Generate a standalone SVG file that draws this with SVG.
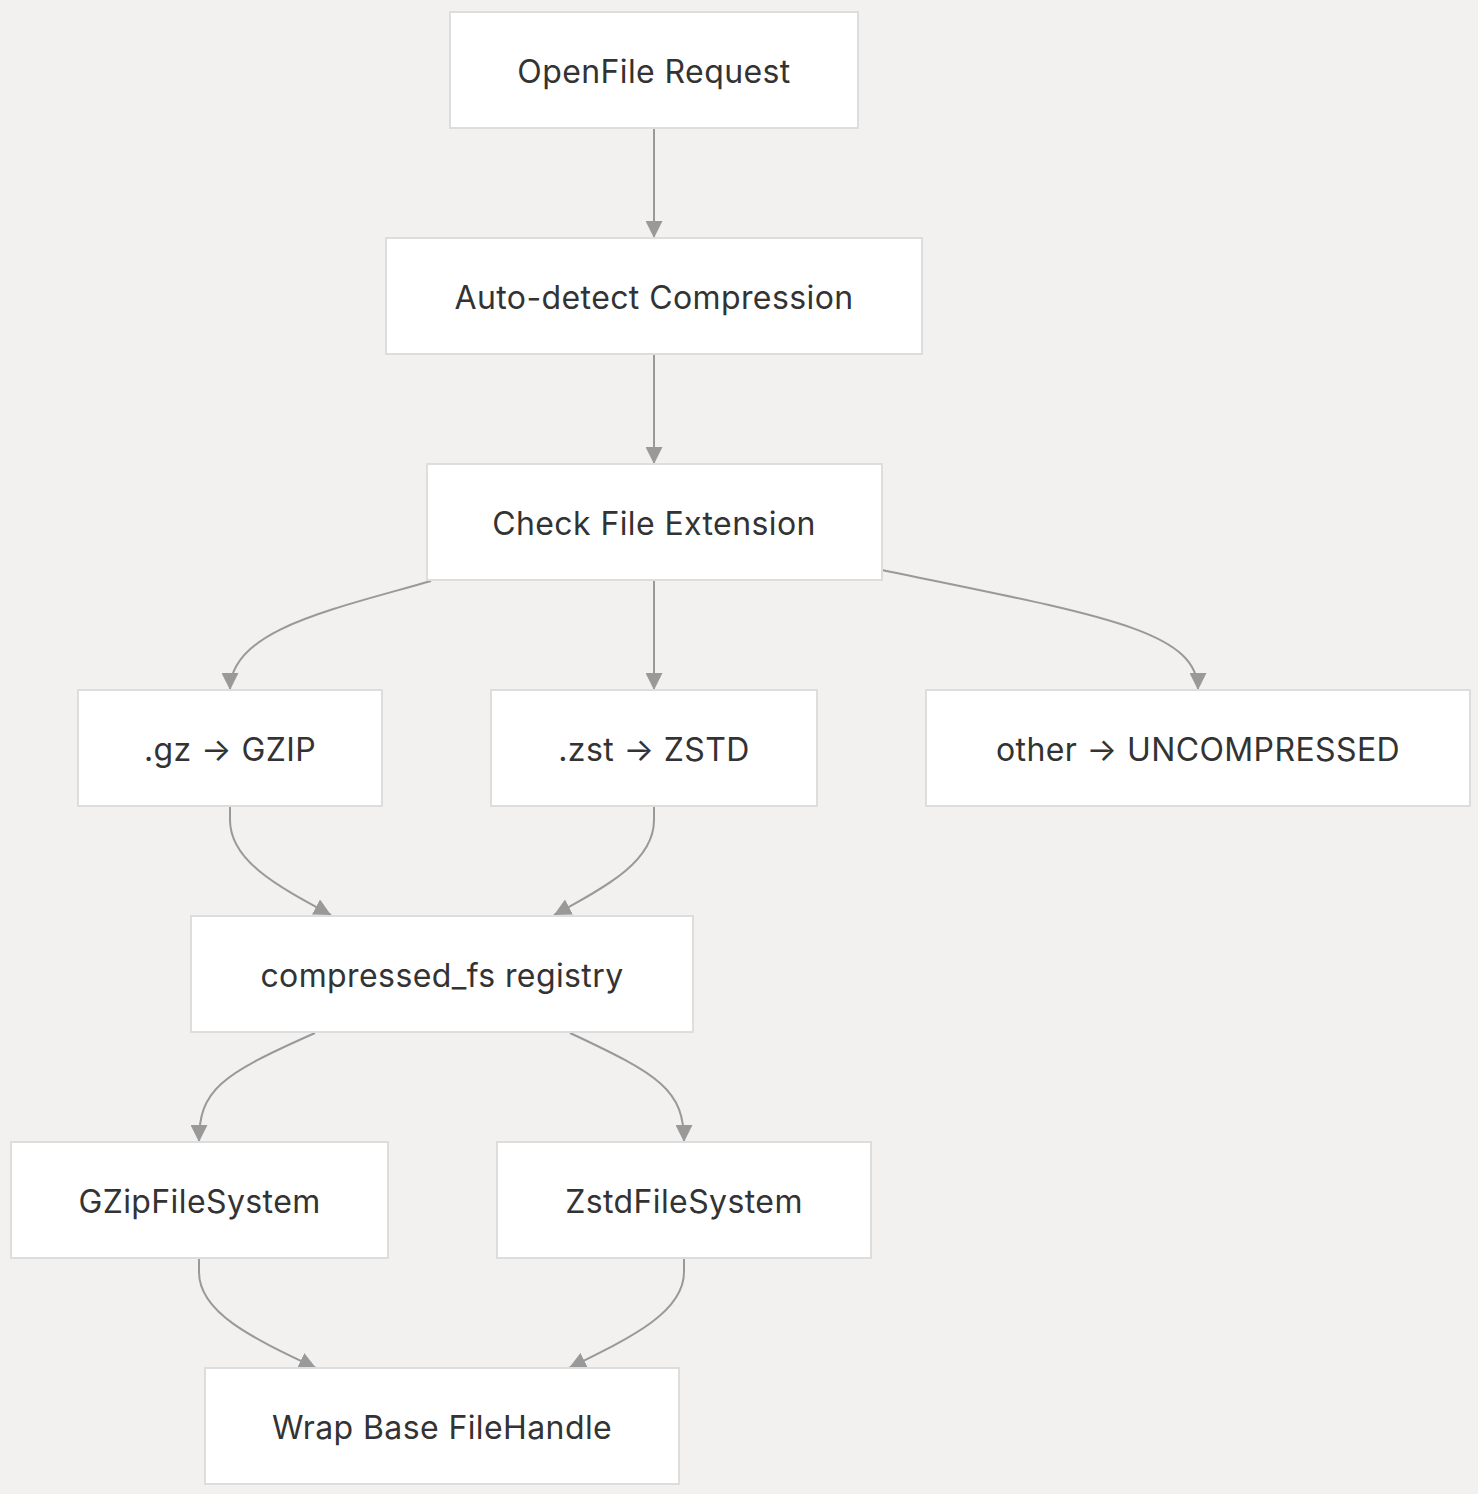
<svg xmlns="http://www.w3.org/2000/svg" width="1478" height="1494" viewBox="0 0 1478 1494">
<defs>
<style>
.node rect{fill:#ffffff;stroke:#dddddd;stroke-width:2}
.node text{font-family:Inter,"Noto Sans","Liberation Sans",sans-serif;font-size:32px;letter-spacing:0.4px;fill:#333333;text-anchor:middle;dominant-baseline:central}
.edge{fill:none;stroke:#999999;stroke-width:2;marker-end:url(#arrow)}
</style>
<marker id="arrow" viewBox="0 0 10 10" refX="10" refY="5" markerWidth="17" markerHeight="17" markerUnits="userSpaceOnUse" orient="auto">
<path d="M0,0 L10,5 L0,10 z" fill="#999999"/>
</marker>
</defs>
<rect x="0" y="0" width="1478" height="1494" fill="#f2f1f0"/>
<g id="connectors">
<path class="edge" d="M654,128 L654,238"/>
<path class="edge" d="M654,354 L654,464"/>
<path class="edge" d="M431,581 C330,610 230,630 230,690"/>
<path class="edge" d="M654,580 L654,690"/>
<path class="edge" d="M882,570 C1100,615 1198,630 1198,690"/>
<path class="edge" d="M230,806 L230,820 C230,860 275,885 331,915"/>
<path class="edge" d="M654,806 L654,820 C654,860 610,885 554,915"/>
<path class="edge" d="M315,1033 C220,1075 199,1090 199,1142"/>
<path class="edge" d="M570,1033 C660,1075 684,1090 684,1142"/>
<path class="edge" d="M199,1258 L199,1272 C199,1312 250,1337 316,1368"/>
<path class="edge" d="M684,1258 L684,1272 C684,1312 632,1337 569,1368"/>
</g>
<g id="openfile" class="node"><rect x="450" y="12" width="408" height="116"/><text x="654" y="71">OpenFile Request</text></g>
<g id="autodetect" class="node"><rect x="386" y="238" width="536" height="116"/><text x="654" y="297">Auto-detect Compression</text></g>
<g id="checkext" class="node"><rect x="427" y="464" width="455" height="116"/><text x="654" y="523">Check File Extension</text></g>
<g id="gz" class="node"><rect x="78" y="690" width="304" height="116"/><text x="230" y="749">.gz → GZIP</text></g>
<g id="zst" class="node"><rect x="491" y="690" width="326" height="116"/><text x="654" y="749">.zst → ZSTD</text></g>
<g id="other" class="node"><rect x="926" y="690" width="544" height="116"/><text x="1198" y="749">other → UNCOMPRESSED</text></g>
<g id="registry" class="node"><rect x="191" y="916" width="502" height="116"/><text x="442" y="975">compressed_fs registry</text></g>
<g id="gzipfs" class="node"><rect x="11" y="1142" width="377" height="116"/><text x="199.5" y="1201">GZipFileSystem</text></g>
<g id="zstdfs" class="node"><rect x="497" y="1142" width="374" height="116"/><text x="684" y="1201">ZstdFileSystem</text></g>
<g id="wrap" class="node"><rect x="205" y="1368" width="474" height="116"/><text x="442" y="1427">Wrap Base FileHandle</text></g>
</svg>
